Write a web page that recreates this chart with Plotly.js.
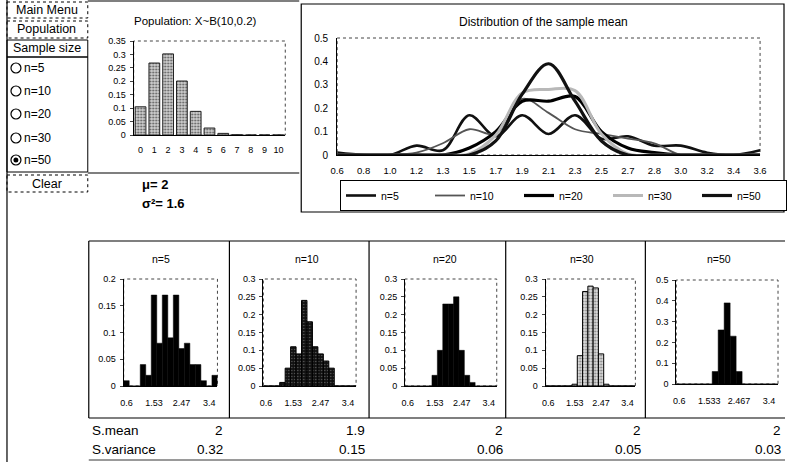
<!DOCTYPE html>
<html>
<head>
<meta charset="utf-8">
<script src="https://cdn.plot.ly/plotly-3.0.1.min.js"></script>
<style>html,body{margin:0;padding:0;background:#fff;}#chart{width:787px;height:462px;}</style>
</head>
<body>
<div id="chart"></div>
<script>
// ---------- data ----------
const popCategories = ["0","1","2","3","4","5","6","7","8","9","10"];
const popProbabilities = [0.105, 0.268, 0.302, 0.201, 0.088, 0.026, 0.006, 0.001, 0, 0, 0];
const popYTickVals = [0, 0.05, 0.1, 0.15, 0.2, 0.25, 0.3, 0.35];
const popYTickText = ["0", "0.05", "0.1", "0.15", "0.2", "0.25", "0.3", "0.35"];

const meanCategories = ["0.6","0.8","1.0","1.2","1.3","1.5","1.7","1.9","2.1","2.3","2.5","2.7","2.8","3.0","3.2","3.4","3.6"];
const seriesNames = ["n=5", "n=10", "n=20", "n=30", "n=50"];
const freqN5  = [0.01, 0, 0, 0.04, 0.02, 0.17, 0.08, 0.17, 0.09, 0.17, 0.07, 0.08, 0.04, 0.04, 0.01, 0, 0.02];
const freqN10 = [0, 0, 0, 0.01, 0.05, 0.11, 0.09, 0.24, 0.18, 0.11, 0.09, 0.07, 0.05, 0, 0, 0, 0];
const freqN20 = [0, 0, 0, 0, 0, 0.03, 0.10, 0.23, 0.23, 0.25, 0.10, 0.03, 0.01, 0, 0, 0, 0];
const freqN30 = [0, 0, 0, 0, 0, 0.005, 0.085, 0.265, 0.28, 0.275, 0.09, 0.005, 0, 0, 0, 0, 0];
const freqN50 = [0, 0, 0, 0, 0, 0, 0.06, 0.26, 0.39, 0.23, 0.06, 0, 0, 0, 0, 0, 0];
const distYTickVals = [0, 0.1, 0.2, 0.3, 0.4, 0.5];
const distYTickText = ["0", "0.1", "0.2", "0.3", "0.4", "0.5"];

const histTickIndex = [0, 5, 10, 15];
const histTickText = ["0.6", "1.53", "2.47", "3.4"];
const histTickTextN50 = ["0.6", "1.533", "2.467", "3.4"];
const histYMax = [0.2, 0.3, 0.3, 0.3, 0.5];
const histYTickVals = [[0,0.05,0.1,0.15,0.2],[0,0.05,0.1,0.15,0.2,0.25,0.3],[0,0.05,0.1,0.15,0.2,0.25,0.3],[0,0.05,0.1,0.15,0.2,0.25,0.3],[0,0.1,0.2,0.3,0.4,0.5]];
const histYTickText = [["0","0.05","0.1","0.15","0.2"],["0","0.05","0.1","0.15","0.2","0.25","0.3"],["0","0.05","0.1","0.15","0.2","0.25","0.3"],["0","0.05","0.1","0.15","0.2","0.25","0.3"],["0","0.1","0.2","0.3","0.4","0.5"]];

const sampleMeans = ["2", "1.9", "2", "2", "2"];
const sampleVariances = ["0.32", "0.15", "0.06", "0.05", "0.03"];
const popMeanText = "μ= 2";
const popVarText = "σ²= 1.6";
const menuItems = ["Main Menu", "Population", "Sample size"];
const clearText = "Clear";
const popTitle = "Population: X~B(10,0.2)";
const distTitle = "Distribution of the sample mean";

// ---------- layout helpers ----------
const W = 787, H = 462;
const X = px => px / W;
const Y = py => 1 - py / H;
const FONT = "Liberation Sans, Arial, sans-serif";
const allFreq = [freqN5, freqN10, freqN20, freqN30, freqN50];

const lineStyles = [
  {color: "#111", width: 2.6},
  {color: "#555", width: 1.8},
  {color: "#000", width: 3.2},
  {color: "#b8b8b8", width: 3},
  {color: "#111", width: 3.2}
];
const barStyles = [
  {color: "#000", line: {color: "#000", width: 0.5}},
  {color: "#111", pattern: {shape: ".", fgcolor: "#6a6a6a", bgcolor: "#111", size: 3, solidity: 0.15}, line: {color: "#000", width: 1}},
  {color: "#000", line: {color: "#000", width: 0.5}},
  {color: "#ccc", pattern: {shape: ".", fgcolor: "#777", bgcolor: "#dcdcdc", size: 3, solidity: 0.3}, line: {color: "#000", width: 1}},
  {color: "#000", line: {color: "#000", width: 0.5}}
];
// plot-area pixel boxes [left, right, top, bottom]
const histBoxes = [[124,218,279,386],[264,357,279,386],[406,498,279,386],[547,637,279,386],[678,780,280,384]];
const histTitlePos = [161, 308, 446, 583, 721];
const panelEdges = [89, 230, 370, 507, 647, 787];
const valueRight = [226, 368, 506, 645, 785];

const traces = [];
traces.push({
  type: "bar", x: popCategories, y: popProbabilities, xaxis: "x", yaxis: "y", width: 0.78,
  marker: {color: "#ccc", pattern: {shape: ".", fgcolor: "#555", bgcolor: "#cfcfcf", size: 3, solidity: 0.3}, line: {color: "#222", width: 1}},
  showlegend: false, hoverinfo: "skip"
});
seriesNames.forEach((nm, i) => {
  traces.push({
    type: "scatter", mode: "lines", name: nm, x: meanCategories, y: allFreq[i],
    xaxis: "x2", yaxis: "y2", line: Object.assign({shape: "spline", smoothing: 1}, lineStyles[i]),
    hoverinfo: "skip"
  });
});
seriesNames.forEach((nm, i) => {
  const ax = i + 3;
  traces.push({
    type: "bar", x: meanCategories, y: allFreq[i], xaxis: "x" + ax, yaxis: "y" + ax, width: 1,
    marker: barStyles[i], showlegend: false, hoverinfo: "skip"
  });
});

const baseAxis = {showline: true, linecolor: "#000", linewidth: 1, showgrid: false, zeroline: false, fixedrange: true,
  tickfont: {family: FONT, size: 9, color: "#000"}};

const layout = {
  width: W, height: H, margin: {l: 0, r: 0, t: 0, b: 0},
  paper_bgcolor: "#fff", plot_bgcolor: "#fff",
  font: {family: FONT, size: 10, color: "#000"},
  xaxis: Object.assign({}, baseAxis, {domain: [X(134), X(286)], anchor: "y", type: "category", ticks: "", ticklabelstandoff: 6}),
  yaxis: Object.assign({}, baseAxis, {domain: [Y(135), Y(41)], anchor: "x", range: [0, 0.35], tickvals: popYTickVals, ticktext: popYTickText, ticks: "outside", ticklen: 3, ticklabelstandoff: 2}),
  xaxis2: Object.assign({}, baseAxis, {domain: [X(338), X(762)], anchor: "y2", type: "category", ticks: "", ticklabelstandoff: 7, tickfont: {family: FONT, size: 9.5, color: "#000"}}),
  yaxis2: Object.assign({}, baseAxis, {domain: [Y(155), Y(38)], anchor: "x2", range: [0, 0.5], tickvals: distYTickVals, ticktext: distYTickText, ticks: "", ticklabelstandoff: 6, tickfont: {family: FONT, size: 10, color: "#000"}}),
  legend: {orientation: "h", x: X(341), y: Y(180), xanchor: "left", yanchor: "top", bordercolor: "#000", borderwidth: 1,
    entrywidth: 44, entrywidthmode: "pixels", itemwidth: 30, font: {family: FONT, size: 10.5, color: "#000"}, bgcolor: "#fff",
    tracegroupgap: 0},
  showlegend: true,
  shapes: [],
  annotations: []
};

histBoxes.forEach((b, i) => {
  const ax = i + 3;
  layout["xaxis" + ax] = Object.assign({}, baseAxis, {domain: [X(b[0]), X(b[1])], anchor: "y" + ax, type: "category",
    tickvals: histTickIndex.map(k => meanCategories[k]), ticktext: i === 4 ? histTickTextN50 : histTickText, ticks: "", tickangle: 0, ticklabelstandoff: 8});
  layout["yaxis" + ax] = Object.assign({}, baseAxis, {domain: [Y(b[3]), Y(b[2])], anchor: "x" + ax, range: [0, histYMax[i]],
    tickvals: histYTickVals[i], ticktext: histYTickText[i], ticks: "outside", ticklen: 3, ticklabelstandoff: 2});
});

// dotted plot-area frames
const frameRefs = [["x","y"],["x2","y2"],["x3","y3"],["x4","y4"],["x5","y5"],["x6","y6"],["x7","y7"]];
frameRefs.forEach(r => {
  layout.shapes.push({type: "rect", xref: r[0] + " domain", yref: r[1] + " domain", x0: 0, x1: 1, y0: 0, y1: 1,
    line: {color: "#444", width: 1, dash: "dot"}, layer: "below"});
});

const line = (x0, y0, x1, y1, w, dash) => ({type: "line", xref: "paper", yref: "paper", x0: X(x0), y0: Y(y0), x1: X(x1), y1: Y(y1),
  line: {color: "#000", width: w || 1, dash: dash || "solid"}});
const rect = (x0, y0, x1, y1, w, dash) => ({type: "rect", xref: "paper", yref: "paper", x0: X(x0), y0: Y(y0), x1: X(x1), y1: Y(y1),
  line: {color: "#000", width: w || 1, dash: dash || "solid"}});

// page frames
layout.shapes.push(line(7, 0, 7, 462, 1.2));
layout.shapes.push(line(88, 1, 300, 1, 1.2));
layout.shapes.push(line(88, 173, 300, 173, 1.2));
layout.shapes.push(rect(302, 4, 786, 212, 1.2));
layout.shapes.push(line(panelEdges[0], 241, 787, 241, 1.2));
layout.shapes.push(line(panelEdges[0], 418, 787, 418, 1.2));
panelEdges.slice(0, 5).forEach(px => layout.shapes.push(line(px, 241, px, 418, 1.2)));
layout.shapes.push(line(panelEdges[0], 460, 787, 460, 0.8));

// menu boxes
layout.shapes.push(rect(7, 2, 88, 18, 1, "dot"));
layout.shapes.push(rect(7, 21, 88, 38, 1, "dot"));
layout.shapes.push(rect(7, 40, 88, 57, 1));
layout.shapes.push(rect(7, 57, 88, 172, 1));
layout.shapes.push(rect(7, 175, 88, 192, 1, "dot"));
const menuY = [10, 29.5, 48.5];
menuItems.forEach((t, i) => layout.annotations.push({text: t, x: X(47), y: Y(menuY[i]), xref: "paper", yref: "paper",
  showarrow: false, font: {family: FONT, size: 12.5, color: "#000"}, xanchor: "center", yanchor: "middle"}));
layout.annotations.push({text: clearText, x: X(47), y: Y(183.5), xref: "paper", yref: "paper", showarrow: false,
  font: {family: FONT, size: 12.5, color: "#000"}, xanchor: "center", yanchor: "middle"});

// radio buttons
const radioY = [68, 91, 114, 138, 160];
seriesNames.forEach((nm, i) => {
  const cy = radioY[i];
  layout.shapes.push({type: "circle", xref: "paper", yref: "paper", x0: X(11), x1: X(21), y0: Y(cy + 5), y1: Y(cy - 5),
    line: {color: "#000", width: 1.2}});
  if (i === 4) {
    layout.shapes.push({type: "circle", xref: "paper", yref: "paper", x0: X(13.5), x1: X(18.5), y0: Y(cy + 2.5), y1: Y(cy - 2.5),
      fillcolor: "#000", line: {color: "#000", width: 0}});
  }
  layout.annotations.push({text: nm, x: X(22), y: Y(cy), xref: "paper", yref: "paper", showarrow: false,
    font: {family: FONT, size: 12, color: "#000"}, xanchor: "left", yanchor: "middle"});
});

// titles
layout.annotations.push({text: popTitle, x: X(196), y: Y(21), xref: "paper", yref: "paper", showarrow: false,
  font: {family: FONT, size: 11.5, color: "#000"}, xanchor: "center", yanchor: "middle"});
layout.annotations.push({text: distTitle, x: X(545), y: Y(22), xref: "paper", yref: "paper", showarrow: false,
  font: {family: FONT, size: 12, color: "#000"}, xanchor: "center", yanchor: "middle"});
layout.annotations.push({text: "<b>" + popMeanText + "</b>", x: X(140), y: Y(185), xref: "paper", yref: "paper", showarrow: false,
  font: {family: FONT, size: 13, color: "#000"}, xanchor: "left", yanchor: "middle"});
layout.annotations.push({text: "<b>" + popVarText + "</b>", x: X(140), y: Y(204), xref: "paper", yref: "paper", showarrow: false,
  font: {family: FONT, size: 13, color: "#000"}, xanchor: "left", yanchor: "middle"});

seriesNames.forEach((nm, i) => {
  layout.annotations.push({text: nm, x: X(histTitlePos[i]), y: Y(259), xref: "paper", yref: "paper", showarrow: false,
    font: {family: FONT, size: 10.5, color: "#000"}, xanchor: "center", yanchor: "middle"});
  layout.annotations.push({text: sampleMeans[i], x: X(valueRight[i]), y: Y(430), xref: "paper", yref: "paper", showarrow: false,
    font: {family: FONT, size: 13.5, color: "#000"}, xanchor: "right", yanchor: "middle"});
  layout.annotations.push({text: sampleVariances[i], x: X(valueRight[i]), y: Y(449), xref: "paper", yref: "paper", showarrow: false,
    font: {family: FONT, size: 13.5, color: "#000"}, xanchor: "right", yanchor: "middle"});
});
layout.annotations.push({text: "S.mean", x: X(90), y: Y(430), xref: "paper", yref: "paper", showarrow: false,
  font: {family: FONT, size: 13.5, color: "#000"}, xanchor: "left", yanchor: "middle"});
layout.annotations.push({text: "S.variance", x: X(90), y: Y(449), xref: "paper", yref: "paper", showarrow: false,
  font: {family: FONT, size: 13.5, color: "#000"}, xanchor: "left", yanchor: "middle"});

Plotly.newPlot("chart", traces, layout, {displayModeBar: false, staticPlot: true});
</script>
</body>
</html>
